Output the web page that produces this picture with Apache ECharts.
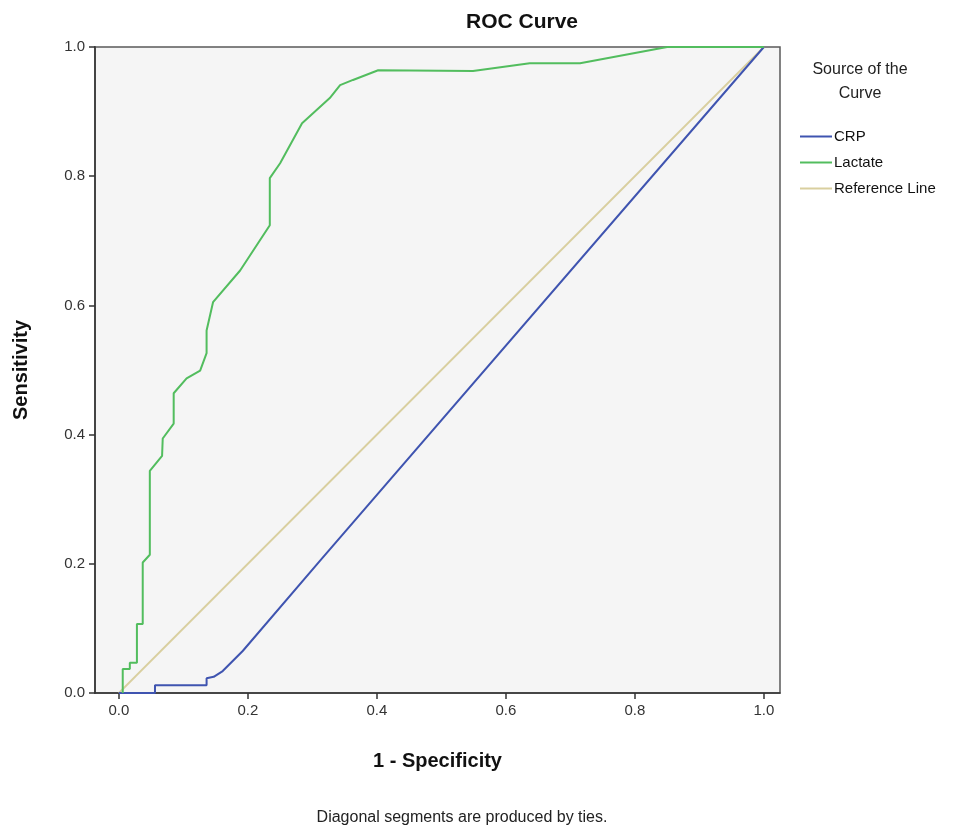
<!DOCTYPE html>
<html>
<head>
<meta charset="utf-8">
<script src="https://cdn.jsdelivr.net/npm/echarts@6/dist/echarts.min.js"></script>
<style>
  html, body { margin: 0; padding: 0; background: #fff; }
  #chart { width: 961px; height: 834px; }
</style>
</head>
<body>
<div id="chart"></div>
<script>
// points of each curve, [1 - specificity, sensitivity]
var crpPoints = [
  [0, 0], [0.056, 0], [0.056, 0.012], [0.136, 0.012], [0.136, 0.023],
  [0.147, 0.025], [0.161, 0.034], [0.192, 0.065], [0.312, 0.205], [1, 1]
];
var lactatePoints = [
  [0.006, 0], [0.006, 0.037], [0.017, 0.037], [0.017, 0.047], [0.028, 0.047],
  [0.028, 0.107], [0.037, 0.107], [0.037, 0.202], [0.048, 0.214], [0.048, 0.344],
  [0.067, 0.367], [0.068, 0.394], [0.085, 0.417], [0.085, 0.464], [0.105, 0.487],
  [0.126, 0.499], [0.136, 0.526], [0.136, 0.561], [0.146, 0.605], [0.188, 0.654],
  [0.234, 0.724], [0.234, 0.797], [0.250, 0.820], [0.284, 0.882], [0.327, 0.921],
  [0.343, 0.941], [0.363, 0.949], [0.402, 0.964], [0.549, 0.963], [0.637, 0.975],
  [0.715, 0.975], [0.850, 1], [1, 1]
];
var refPoints = [[0, 0], [1, 1]];
var xTicks = [0, 0.2, 0.4, 0.6, 0.8, 1.0];
var seriesNames = ['CRP', 'Lactate', 'Reference Line'];
var seriesColors = ['#3f54b0', '#52bd5e', '#d9cf9f'];

var FONT = '"Liberation Sans", Arial, sans-serif';
var chart = echarts.init(document.getElementById('chart'));

var lineSeries = function(name, data, color, width) {
  return {
    name: name,
    type: 'line',
    data: data,
    symbol: 'none',
    animation: false,
    lineStyle: { color: color, width: width },
    itemStyle: { color: color }
  };
};

var option = {
  backgroundColor: '#ffffff',
  textStyle: { fontFamily: FONT },
  grid: {
    left: 95, right: 181, top: 47, bottom: 141,
    show: true,
    backgroundColor: '#f5f5f5',
    borderColor: '#5a5a5a',
    borderWidth: 1.5
  },
  xAxis: {
    type: 'value',
    min: -0.037,
    max: 1.025,
    name: '1 - Specificity',
    nameLocation: 'middle',
    nameGap: 58,
    nameTextStyle: { fontSize: 20, fontWeight: 'bold', color: '#111', fontFamily: FONT },
    axisLine: { show: true, onZero: false, lineStyle: { color: '#333', width: 1.5 } },
    axisTick: { show: true, customValues: xTicks, length: 6, lineStyle: { color: '#333', width: 1.5 } },
    axisLabel: {
      customValues: xTicks,
      formatter: function(v) { return v.toFixed(1); },
      fontSize: 15, color: '#333', margin: 10, fontFamily: FONT
    },
    splitLine: { show: false }
  },
  yAxis: {
    type: 'value',
    min: 0,
    max: 1,
    interval: 0.2,
    name: 'Sensitivity',
    nameLocation: 'middle',
    nameGap: 64,
    nameTextStyle: { fontSize: 20, fontWeight: 'bold', color: '#111', fontFamily: FONT },
    axisLine: { show: true, onZero: false, lineStyle: { color: '#444', width: 2 } },
    axisTick: { show: true, length: 6, lineStyle: { color: '#333', width: 1.5 } },
    axisLabel: {
      formatter: function(v) { return v.toFixed(1); },
      fontSize: 15, color: '#333', margin: 10, fontFamily: FONT
    },
    splitLine: { show: false }
  },
  legend: {
    orient: 'vertical',
    left: 795,
    top: 124,
    itemWidth: 32,
    itemHeight: 2,
    itemGap: 11,
    icon: 'rect',
    data: seriesNames,
    textStyle: { fontSize: 15, color: '#111', fontFamily: FONT, padding: [0, 0, 0, -3] }
  },
  graphic: [
    { type: 'text', x: 522, y: 12, style: { text: 'ROC Curve', font: 'bold 21px ' + FONT, fill: '#111', textAlign: 'center' } },
    { type: 'text', x: 860, y: 62, style: { text: 'Source of the', font: '16px ' + FONT, fill: '#222', textAlign: 'center' } },
    { type: 'text', x: 860, y: 86, style: { text: 'Curve', font: '16px ' + FONT, fill: '#222', textAlign: 'center' } },
    { type: 'text', x: 462, y: 810, style: { text: 'Diagonal segments are produced by ties.', font: '16px ' + FONT, fill: '#222', textAlign: 'center' } }
  ],
  series: [
    lineSeries(seriesNames[2], refPoints, seriesColors[2], 1.8),
    lineSeries(seriesNames[0], crpPoints, seriesColors[0], 2),
    lineSeries(seriesNames[1], lactatePoints, seriesColors[1], 2)
  ]
};
chart.setOption(option);
</script>
</body>
</html>
